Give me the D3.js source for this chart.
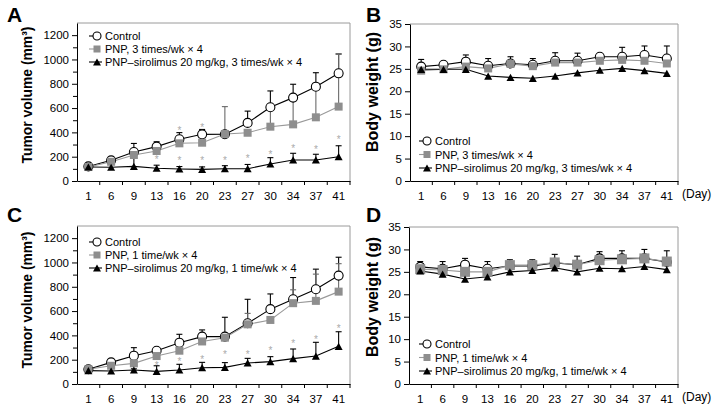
<!DOCTYPE html>
<html><head><meta charset="utf-8">
<script src="https://cdn.jsdelivr.net/npm/d3@7"></script>
<style>body{margin:0;background:#fff}svg{display:block}text{font-family:Arial,"Liberation Sans",sans-serif}</style>
</head><body><svg id="c" width="718" height="411"></svg>
<script>
// ---------- data ----------
const days = ["1","6","9","13","16","20","23","27","30","34","37","41"];
const tumorTicks = [0,200,400,600,800,1000,1200];
const tumorMinor = [100,300,500,700,900,1100];
const weightTicks = [0,5,10,15,20,25,30,35];

// Panel A tumor volume (3 times/wk)
const ctrlA    = [120,170,239,283,343,384,385,478,607,686,776,886];
const ctrlAErr = [10,15,70,40,55,40,20,97,134,110,115,159];
const pnpA     = [115,158,214,247,310,315,387,397,447,466,524,612];
const pnpAErr  = [0,0,0,0,0,0,225,0,170,220,250,433];
const sirA     = [115,113,120,105,99,96,101,101,140,173,173,200];
const sirAErr  = [0,0,94,25,20,20,25,35,52,55,47,90];
const starADays = ["16","20","13","16","20","23","27","30","34","37","41"];
const starAVals = [430,452,187,179,179,181,200,233,282,269,351];

// Panel B body weight (3 times/wk)
const ctrlB    = [25.5,25.9,26.6,25.7,26.2,25.9,26.8,26.8,27.7,27.7,28.1,27.3];
const ctrlBErr = [1.6,0.3,1.5,1.6,1.5,1.4,1.8,1.7,0.3,2.1,2.0,2.8];
const pnpB     = [24.6,24.9,25.5,25.1,26.1,25.6,26.4,26.4,26.8,27.0,26.8,26.2];
const pnpBErr  = [0,0,0,0,0,0,0,0,0,0,0,0];
const sirB     = [24.9,24.9,24.9,23.4,23.1,22.9,23.4,24.1,24.7,25.1,24.6,24.0];
const sirBErr  = [0,0,0,0,0,0,0,0,0,0,0,0];

// Panel C tumor volume (1 time/wk)
const ctrlC    = [121,178,233,274,340,390,390,500,616,697,780,892];
const ctrlCErr = [10,15,66,14,69,55,159,197,125,179,165,151];
const pnpC     = [121,150,170,230,274,350,381,491,527,665,684,760];
const pnpCErr  = [0,10,10,10,10,10,0,90,0,110,220,230];
const sirC     = [110,107,115,104,115,134,137,173,184,209,230,310];
const sirCErr  = [0,0,10,46,47,44,39,38,41,79,113,120];
const starCDays = ["13","16","20","23","27","30","34","37","41"];
const starCVals = [162,195,211,252,252,285,348,376,467];

// Panel D body weight (1 time/wk)
const ctrlD    = [26.1,25.7,26.6,25.7,26.3,26.3,27.0,26.6,28.0,28.0,28.0,27.2];
const ctrlDErr = [1.2,1.6,1.4,1.6,1.4,1.4,1.9,1.9,1.5,1.7,2.0,2.5];
const pnpD     = [25.6,25.4,25.0,25.0,26.5,26.5,27.1,26.6,27.6,27.8,28.0,27.3];
const pnpDErr  = [0,0,0,0,0,0,0,0,0,0,0,0];
const sirD     = [25.2,24.5,23.4,23.9,25.0,25.3,25.9,25.0,25.8,25.7,26.2,25.5];
const sirDErr  = [0,0,0,0,0,0,0,0,0,0,0,0];

const legendA = ["Control","PNP, 3 times/wk \u00d7 4","PNP\u2013sirolimus 20 mg/kg, 3 times/wk \u00d7 4"];
const legendC = ["Control","PNP, 1 time/wk \u00d7 4","PNP\u2013sirolimus 20 mg/kg, 1 time/wk \u00d7 4"];

// ---------- drawing ----------
const svg = d3.select("#c");
const GRAY = "#8e8e8e";

function fitText(sel, base, target){
  const len = sel.node().getComputedTextLength();
  if(len>0) sel.attr("font-size", base*target/len);
}

function marker(g, type, cx, cy, sz){
  if(type==="circle"){
    g.append("circle").attr("cx",cx).attr("cy",cy).attr("r",sz/2)
      .attr("fill","#fff").attr("stroke","#000").attr("stroke-width",1.1);
  } else if(type==="square"){
    g.append("rect").attr("x",cx-sz/2).attr("y",cy-sz/2).attr("width",sz).attr("height",sz)
      .attr("fill",GRAY);
  } else {
    const h=sz*0.9;
    g.append("path").attr("d",`M${cx-sz/2},${cy+h/2}L${cx+sz/2},${cy+h/2}L${cx},${cy-h/2}Z`).attr("fill","#000");
  }
}

function panel(o){
  const g = svg.append("g");
  const x = d3.scaleBand().domain(days).range([o.left,o.right]).padding(0);
  const cx = d => x(d)+x.bandwidth()/2;
  const y = d3.scaleLinear().domain(o.domain).range([o.bottom,o.top]);

  g.append("path").attr("d",`M${o.left},${o.top}H${o.right}V${o.bottom}`)
    .attr("fill","none").attr("stroke","#9a9a9a").attr("stroke-width",1);

  const ya = g.append("g").attr("transform",`translate(${o.left},0)`)
    .call(d3.axisLeft(y).tickValues(o.ticks).tickSize(5).tickSizeOuter(0).tickPadding(3).tickFormat(d3.format("d")));
  if(o.minor){
    g.append("g").attr("transform",`translate(${o.left},0)`)
      .call(d3.axisLeft(y).tickValues(o.minor).tickSize(4).tickFormat(""))
      .select(".domain").remove();
  }
  const xa = g.append("g").attr("transform",`translate(0,${o.bottom})`)
    .call(d3.axisBottom(x).tickSize(0).tickPadding(11));
  xa.selectAll(".tick line").remove();
  const bounds = days.map(d=>x(d)).concat([o.right]);
  g.selectAll(null).data(bounds.slice(1)).enter().append("line")
    .attr("x1",d=>d).attr("x2",d=>d).attr("y1",o.bottom).attr("y2",o.bottom+4)
    .attr("stroke","#000");
  [ya,xa].forEach(a=>{
    a.selectAll("text").attr("font-size",11.5).attr("fill","#000").style("font-family","Arial, 'Liberation Sans', sans-serif");
    a.selectAll("path,line").attr("stroke","#000");
  });

  const series = [
    {v:o.ctrl, e:o.ctrlErr, type:"circle", sz:9, line:"#000", ec:"#000"},
    {v:o.pnp, e:o.pnpErr, type:"square", sz:o.sq, line:"#999", ec:"#6a6a6a"},
    {v:o.sir, e:o.sirErr, type:"tri", sz:8, line:"#000", ec:"#000"}
  ];
  series.forEach(s=>{
    g.append("path").datum(s.v)
      .attr("d", d3.line().x((d,i)=>cx(days[i])).y(d=>y(d)))
      .attr("fill","none").attr("stroke",s.line).attr("stroke-width",1.1);
  });
  series.forEach(s=>{
    s.v.forEach((v,i)=>{
      if(!s.e[i]) return;
      const X=cx(days[i]), y0=y(v), y1=y(v+s.e[i]);
      g.append("line").attr("x1",X).attr("x2",X).attr("y1",y0).attr("y2",y1).attr("stroke",s.ec).attr("stroke-width",1.1);
      g.append("line").attr("x1",X-3).attr("x2",X+3).attr("y1",y1).attr("y2",y1).attr("stroke",s.ec).attr("stroke-width",1.1);
    });
  });
  if(o.starDays){
    o.starDays.forEach((d,i)=>{
      g.append("text").attr("x",cx(d)).attr("y",y(o.starVals[i])+5).attr("text-anchor","middle")
        .attr("font-size",10).attr("fill","#aaaaaa").text("*");
    });
  }
  series.forEach(s=>{
    s.v.forEach((v,i)=>marker(g,s.type,cx(days[i]),y(v),s.sz));
  });

  o.legend.forEach((t,i)=>{
    const ly = o.legY + i*o.legStep;
    const mx = o.legX;
    g.append("line").attr("x1",mx-8).attr("x2",mx+ (i===2?5:2)).attr("y1",ly).attr("y2",ly)
      .attr("stroke",series[i].line).attr("stroke-width",1.1);
    marker(g,series[i].type,mx,ly,series[i].type==="circle"?8:(series[i].type==="square"?7:8));
    g.append("text").attr("x",mx+8).attr("y",ly+4).attr("font-size",11).attr("fill","#000").text(t);
  });

  const tt = g.append("text").attr("transform",`translate(${o.titleX},${o.titleY}) rotate(-90)`)
    .attr("text-anchor","middle").attr("font-size",15).attr("font-weight","bold").text(o.title);
  fitText(tt, 15, o.titleLen);
  g.append("text").attr("x",o.letterX).attr("y",o.letterY).attr("font-size",21).attr("font-weight","bold").text(o.letter);
  if(o.day){
    g.append("text").attr("x",o.right+4).attr("y",o.bottom+17).attr("font-size",12).text("(Day)");
  }
}

panel({letter:"A",letterX:7,letterY:22,left:77,right:350,top:23,bottom:181,domain:[0,1300],
  ticks:tumorTicks,minor:tumorMinor,ctrl:ctrlA,ctrlErr:ctrlAErr,pnp:pnpA,pnpErr:pnpAErr,sir:sirA,sirErr:sirAErr,
  sq:8,starDays:starADays,starVals:starAVals,legend:legendA,legX:97,legY:36,legStep:13,
  title:"Tumor volume (mm\u00b3)",titleX:32,titleY:95,titleLen:137});
panel({letter:"B",letterX:366,letterY:22,left:410,right:678,top:24,bottom:181,domain:[0,35],
  ticks:weightTicks,ctrl:ctrlB,ctrlErr:ctrlBErr,pnp:pnpB,pnpErr:pnpBErr,sir:sirB,sirErr:sirBErr,
  sq:8,legend:legendA,legX:427,legY:141,legStep:13.5,title:"Body weight (g)",titleX:378,titleY:92,titleLen:120,day:true});
panel({letter:"C",letterX:7,letterY:222,left:77,right:350,top:226,bottom:384,domain:[0,1300],
  ticks:tumorTicks,minor:tumorMinor,ctrl:ctrlC,ctrlErr:ctrlCErr,pnp:pnpC,pnpErr:pnpCErr,sir:sirC,sirErr:sirCErr,
  sq:8,starDays:starCDays,starVals:starCVals,legend:legendC,legX:97,legY:242,legStep:13,
  title:"Tumor volume (mm\u00b3)",titleX:32,titleY:300,titleLen:137});
panel({letter:"D",letterX:366,letterY:222,left:409,right:678,top:227,bottom:384,domain:[0,35],
  ticks:weightTicks,ctrl:ctrlD,ctrlErr:ctrlDErr,pnp:pnpD,pnpErr:pnpDErr,sir:sirD,sirErr:sirDErr,
  sq:10,legend:legendC,legX:427,legY:344,legStep:13.5,title:"Body weight (g)",titleX:378,titleY:297,titleLen:120,day:true});
</script></body></html>
